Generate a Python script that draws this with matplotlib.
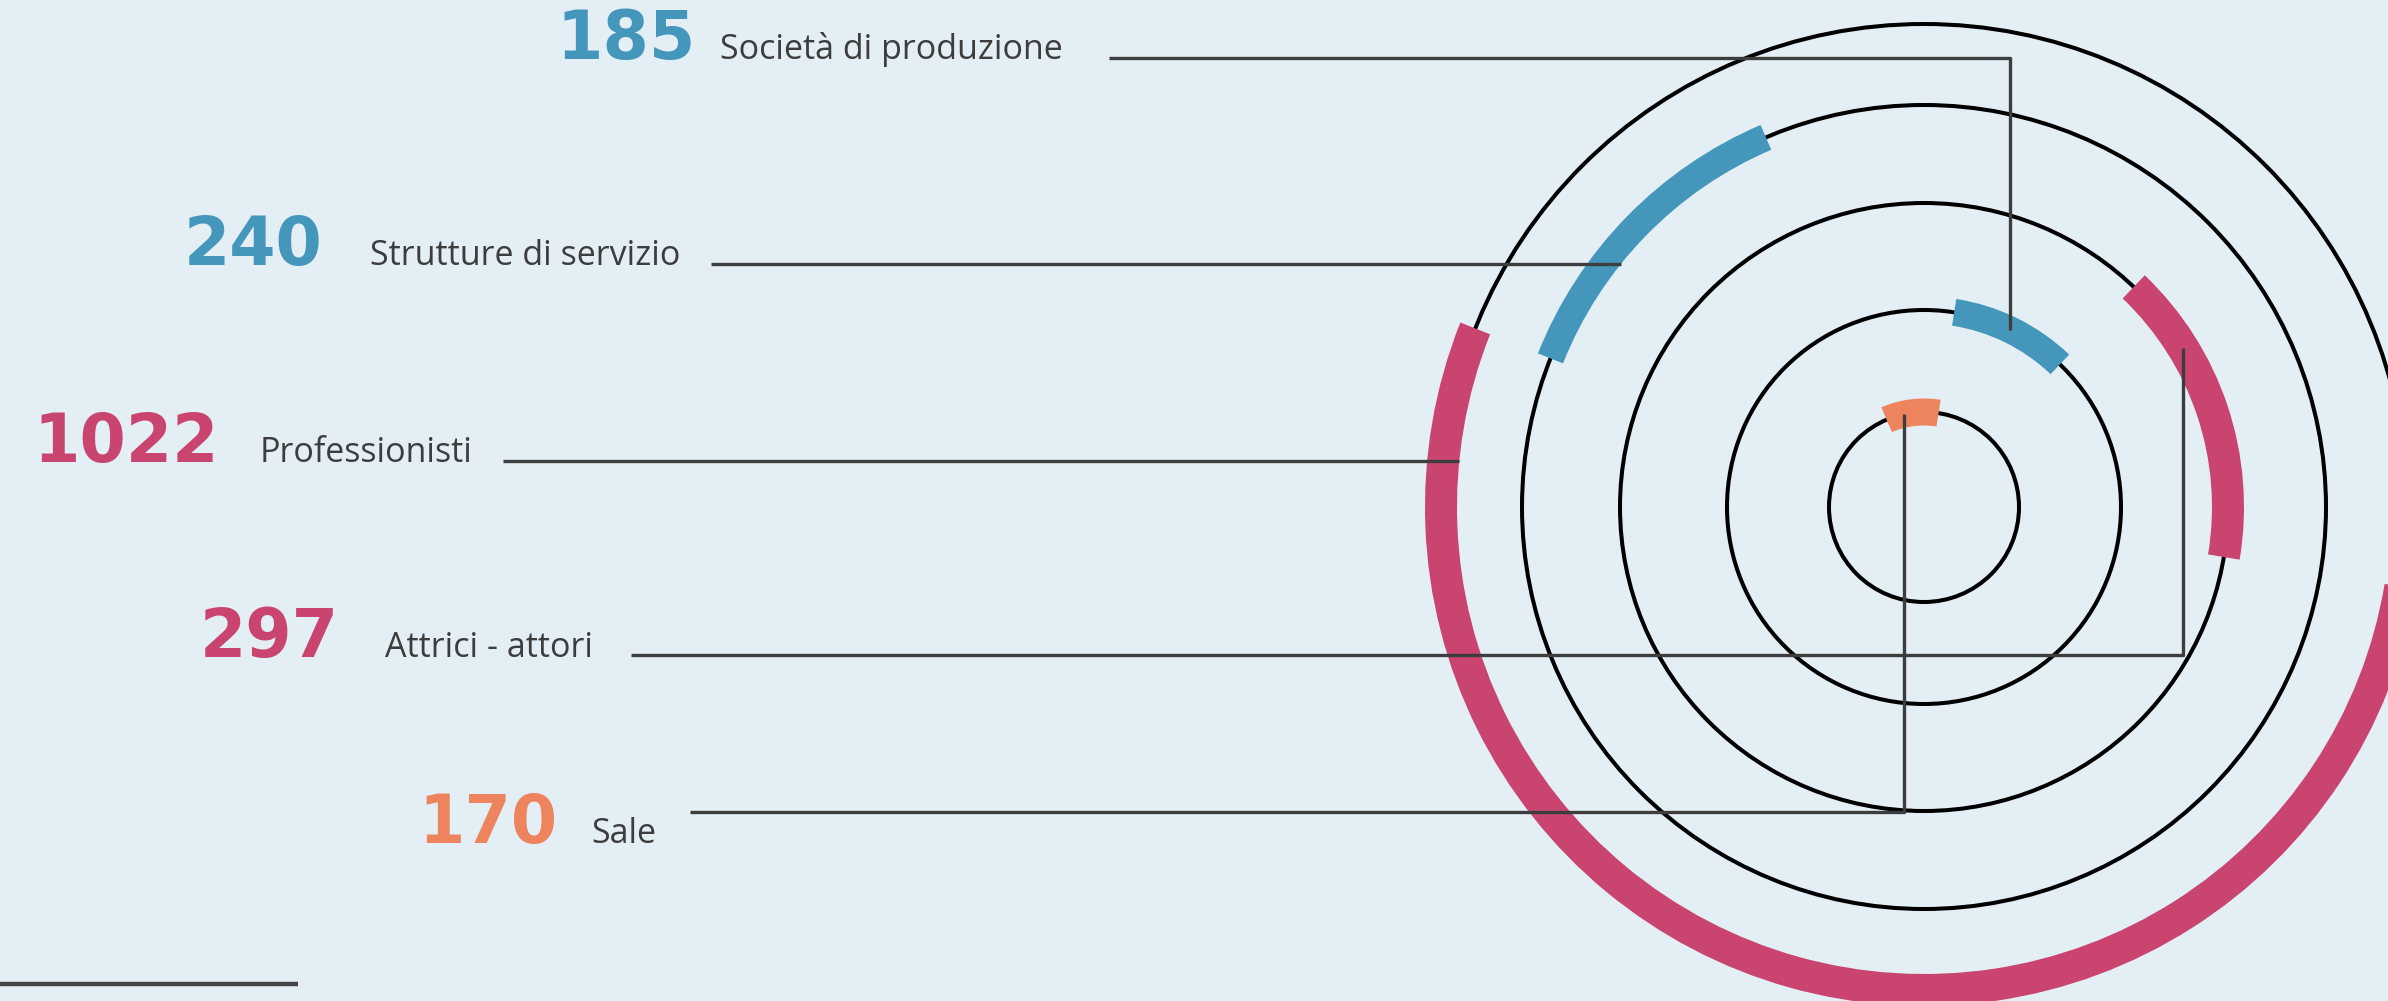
import numpy as np
import matplotlib.pyplot as plt
from matplotlib.patches import Circle, Wedge

# data
categories = ["Società di produzione", "Strutture di servizio", "Professionisti",
              "Attrici - attori", "Sale"]
values = [185, 240, 1022, 297, 170]
colors = ["#4596bb", "#4596bb", "#c9456f", "#c9456f", "#ee845e"]

# order of the arcs going round the circle, and which ring each sits on
arc_order = [2, 3, 0, 4, 1]
ring_of = [1, 3, 4, 2, 0]
start_angle = 158.3

# layout (pixels)
W, H = 2388, 1001
cx, cy = 1924, 507
rings = [95, 197, 304, 402, 483]
arc_w = [27, 27, 32, 32, 27]
num_x = [556, 184, 33, 200, 418]
lab_x = [720, 370, 260, 385, 591]
base_y = [59, 265, 462, 657, 843]
line_y = [58, 264, 461, 655, 812]
line_x0 = [1109, 711, 503, 631, 690]
elbow_x = [2010, None, None, 2183, 1904]

bg = "#e3eef5"
ink = "#3d3d3d"

fig = plt.figure(figsize=(W / 100, H / 100), dpi=100, facecolor=bg)
ax = fig.add_axes([0, 0, 1, 1])
ax.set_facecolor(bg)
ax.set_xlim(0, W)
ax.set_ylim(H, 0)
ax.set_aspect("equal")
ax.axis("off")

for r in rings:
    ax.add_patch(Circle((cx, cy), r, fill=False, ec="black", lw=2.9, zorder=1))

# arcs: angle share of the total, chained round the circle
total = sum(values)
a = start_angle
for i in arc_order:
    span = values[i] / total * 360
    r = rings[ring_of[i]]
    w = arc_w[i]
    # y axis is flipped, so visual angles are negated
    ax.add_patch(Wedge((cx, cy), r + w / 2, -(a + span), -a, width=w,
                       fc=colors[i], ec="none", zorder=2))
    a += span

# labels and leader lines
for i in range(len(categories)):
    ax.text(num_x[i], base_y[i], str(values[i]), color=colors[i], fontsize=48,
            fontweight="bold", family="DejaVu Sans", va="baseline", ha="left")
    ax.text(lab_x[i], base_y[i], categories[i], color=ink, fontsize=24.5,
            family="Open Sans", va="baseline", ha="left")
    r = rings[ring_of[i]]
    if elbow_x[i] is None:
        dy = line_y[i] - cy
        x1 = cx - np.sqrt((r - arc_w[i] / 2) ** 2 - dy ** 2)
        ax.plot([line_x0[i], x1], [line_y[i], line_y[i]], color=ink, lw=2.4,
                solid_capstyle="butt", zorder=3)
    else:
        dx = elbow_x[i] - cx
        y1 = cy - np.sqrt(r ** 2 - dx ** 2)
        ax.plot([line_x0[i], elbow_x[i], elbow_x[i]], [line_y[i], line_y[i], y1],
                color=ink, lw=2.4, solid_capstyle="butt", zorder=3)

ax.plot([0, 298], [984, 984], color="#444444", lw=3.2, solid_capstyle="butt")

fig.savefig("out.png", dpi=100, facecolor=bg)
